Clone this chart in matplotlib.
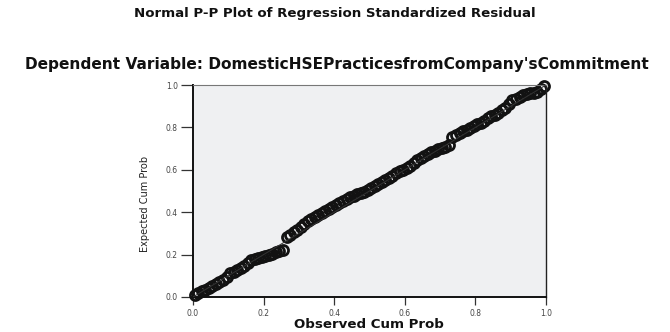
import matplotlib
matplotlib.use("Agg")
import matplotlib.pyplot as plt

# Observed cumulative probability of the standardized residuals
observed = [
    0.005, 0.015, 0.025, 0.035, 0.045, 0.055, 0.065, 0.075, 0.085, 0.095,
    0.105, 0.115, 0.125, 0.135, 0.145, 0.155, 0.165, 0.175, 0.185, 0.195,
    0.205, 0.215, 0.225, 0.235, 0.245, 0.255, 0.265, 0.275, 0.285, 0.295,
    0.305, 0.315, 0.325, 0.335, 0.345, 0.355, 0.365, 0.375, 0.385, 0.395,
    0.405, 0.415, 0.425, 0.435, 0.445, 0.455, 0.465, 0.475, 0.485, 0.495,
    0.505, 0.515, 0.525, 0.535, 0.545, 0.555, 0.565, 0.575, 0.585, 0.595,
    0.605, 0.615, 0.625, 0.635, 0.645, 0.655, 0.665, 0.675, 0.685, 0.695,
    0.705, 0.715, 0.725, 0.735, 0.745, 0.755, 0.765, 0.775, 0.785, 0.795,
    0.805, 0.815, 0.825, 0.835, 0.845, 0.855, 0.865, 0.875, 0.885, 0.895,
    0.905, 0.915, 0.925, 0.935, 0.945, 0.955, 0.965, 0.975, 0.985, 0.995,
]

# Expected cumulative probability under normality
expected = [
    0.010, 0.020, 0.027, 0.034, 0.044, 0.053, 0.062, 0.071, 0.080, 0.095,
    0.112, 0.120, 0.128, 0.137, 0.146, 0.160, 0.173, 0.178, 0.183, 0.188,
    0.193, 0.199, 0.205, 0.211, 0.216, 0.222, 0.283, 0.292, 0.305, 0.318,
    0.330, 0.344, 0.357, 0.368, 0.378, 0.387, 0.397, 0.406, 0.414, 0.423,
    0.432, 0.442, 0.452, 0.462, 0.472, 0.478, 0.484, 0.490, 0.497, 0.505,
    0.514, 0.523, 0.532, 0.543, 0.553, 0.563, 0.573, 0.584, 0.592, 0.600,
    0.607, 0.620, 0.633, 0.646, 0.657, 0.666, 0.674, 0.682, 0.689, 0.696,
    0.702, 0.709, 0.716, 0.757, 0.766, 0.774, 0.782, 0.789, 0.797, 0.806,
    0.814, 0.822, 0.832, 0.843, 0.852, 0.860, 0.870, 0.880, 0.893, 0.910,
    0.927, 0.936, 0.945, 0.952, 0.956, 0.960, 0.964, 0.967, 0.980, 0.993,
]

ticks = [0.0, 0.2, 0.4, 0.6, 0.8, 1.0]
tick_labels = ["0.0", "0.2", "0.4", "0.6", "0.8", "1.0"]

title = "Normal P-P Plot of Regression Standardized Residual"
subtitle = "Dependent Variable: DomesticHSEPracticesfromCompany'sCommitment"

W, H = 670, 332
fig = plt.figure(figsize=(W / 100, H / 100), dpi=100)
fig.patch.set_facecolor("white")

# plot area in pixel coordinates: left 193, right 546, top 85, bottom 297
ax = fig.add_axes([193 / W, 1 - 297 / H, (546 - 193) / W, (297 - 85) / H])
ax.set_facecolor("#eff0f2")

# reference diagonal
ax.plot([0, 1], [0, 1], color="#333333", lw=0.7, zorder=3)
ax.plot(observed, expected, linestyle="none", marker="o", markersize=7.2,
        markerfacecolor="none", markeredgecolor="#121212",
        markeredgewidth=2.0, zorder=2, clip_on=False)

ax.set_xlim(0, 1)
ax.set_ylim(0, 1)
ax.set_xticks(ticks)
ax.set_xticklabels(tick_labels)
ax.set_yticks(ticks)
ax.set_yticklabels(tick_labels)

ax.tick_params(axis="y", direction="out", length=9, width=0.9, pad=2,
               labelsize=5.5, labelcolor="#444444", color="#333333")
ax.tick_params(axis="x", direction="out", length=6, width=0.9, pad=2.5,
               labelsize=5.5, labelcolor="#444444", color="#333333")
for lbl in ax.get_xticklabels() + ax.get_yticklabels():
    lbl.set_family("DejaVu Sans")

ax.spines["left"].set_linewidth(1.4)
ax.spines["bottom"].set_linewidth(1.4)
ax.spines["left"].set_color("#111111")
ax.spines["bottom"].set_color("#111111")
ax.spines["right"].set_linewidth(1.0)
ax.spines["right"].set_color("#222222")
ax.spines["top"].set_linewidth(0.8)
ax.spines["top"].set_color("#777777")

bold_font = ["DejaVu Sans"]

t1 = fig.text(335 / W, 1 - 14 / H, title, ha="center", va="center",
              fontsize=9, fontweight="bold", family=bold_font, color="#111111")
t2 = fig.text(337 / W, 1 - 65 / H, subtitle, ha="center", va="center",
              fontsize=9, fontweight="bold", family=bold_font, color="#111111")
t3 = fig.text(369 / W, 1 - 325 / H, "Observed Cum Prob", ha="center",
              va="center", fontsize=8, fontweight="bold", family=bold_font,
              color="#111111")
fig.text(145 / W, 1 - 204 / H, "Expected Cum Prob", ha="center",
         va="center", rotation=90, fontsize=7.8, fontstretch="condensed",
         family=["DejaVu Sans"], color="#222222")

# scale each headline so it spans its intended width in pixels
renderer = fig.canvas.get_renderer()
for txt, target in [(t1, 400), (t2, 620), (t3, 150)]:
    width = txt.get_window_extent(renderer).width
    txt.set_fontsize(txt.get_fontsize() * target / width)

fig.savefig("out.png", dpi=100)
